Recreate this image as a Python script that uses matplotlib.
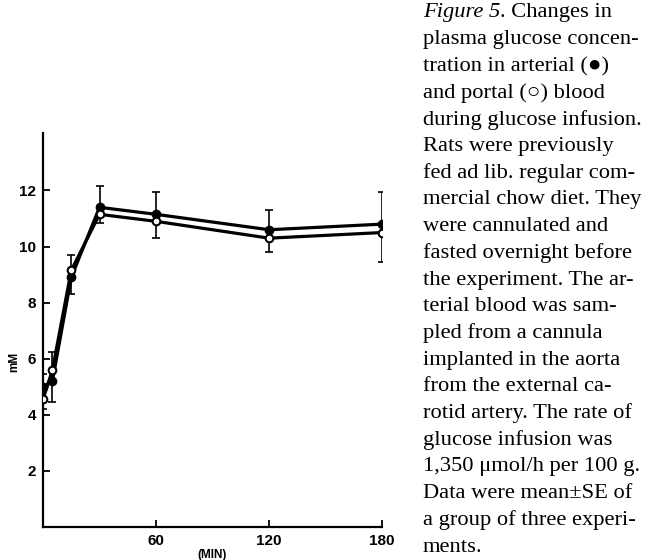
import matplotlib
matplotlib.use("Agg")
import matplotlib.pyplot as plt

# time (min) and plasma glucose (mM)
t = [0, 5, 15, 30, 60, 120, 180]
arterial = [5.0, 5.2, 8.9, 11.4, 11.15, 10.6, 10.8]
arterial_se = [0.45, 1.05, 0.8, 0.75, 0.8, 0.7, 1.15]   # drawn upward
portal = [4.55, 5.6, 9.15, 11.15, 10.9, 10.3, 10.5]
portal_se = [0.35, 1.15, 0.85, 0.3, 0.6, 0.5, 1.05]     # drawn downward

yticks = [2, 4, 6, 8, 10, 12]
xticks = [60, 120, 180]

caption = [
    "plasma glucose concen-",
    "tration in arterial (\u25cf)",
    "and portal (\u25cb) blood",
    "during glucose infusion.",
    "Rats were previously",
    "fed ad lib. regular com-",
    "mercial chow diet. They",
    "were cannulated and",
    "fasted overnight before",
    "the experiment. The ar-",
    "terial blood was sam-",
    "pled from a cannula",
    "implanted in the aorta",
    "from the external ca-",
    "rotid artery. The rate of",
    "glucose infusion was",
    "1,350 \u03bcmol/h per 100 g.",
    "Data were mean\u00b1SE of",
    "a group of three experi-",
    "ments.",
]

W, H = 646, 560
fig = plt.figure(figsize=(W / 100, H / 100), dpi=100)
ax = fig.add_axes([43 / W, 1 - 527 / H, (382 - 43) / W, (527 - 133) / H])

zero = [0] * len(t)
ax.errorbar(t, arterial, yerr=[zero, arterial_se], fmt="none", ecolor="k",
            elinewidth=1.2, capsize=3, capthick=1.2, zorder=2)
ax.errorbar(t, portal, yerr=[portal_se, zero], fmt="none", ecolor="k",
            elinewidth=1.2, capsize=3, capthick=1.2, zorder=2)
ax.plot(t, arterial, "-o", color="k", lw=2.3, ms=6, mfc="k", mec="k", zorder=3)
ax.plot(t, portal, "-o", color="k", lw=2.3, ms=5.5, mfc="white", mec="k", mew=1.5, zorder=4)

ax.set_xlim(0, 180)
ax.set_ylim(0, 14.05)
ax.set_xticks(xticks)
ax.set_yticks(yticks)
for s in ["top", "right"]:
    ax.spines[s].set_visible(False)
for s in ["left", "bottom"]:
    ax.spines[s].set_linewidth(1.6)
ax.tick_params(direction="in", length=5, width=1.3, labelsize=11, pad=5)
for lab in ax.get_xticklabels() + ax.get_yticklabels():
    lab.set_fontweight("bold")
    lab.set_family("Liberation Sans")
ax.set_xlabel("(MIN)", fontsize=8.5, fontweight="bold", family="Liberation Sans", labelpad=1)
ax.set_ylabel("mM", fontsize=8.5, fontweight="bold", family="Liberation Sans")
ax.yaxis.set_label_coords(-0.066, 0.42)

# caption, line by line
serif = ["Liberation Serif", "DejaVu Serif"]
fs = 16.2
x0, y0, dy = 423 / W, 1 - 13 / H, 26.7 / H
t1 = fig.text(x0, y0, "Figure 5", fontsize=fs, family=serif, style="italic", va="center")
fig.canvas.draw()
ax.annotate(". Changes in", xy=(1, 0), xycoords=t1, va="bottom", ha="left",
            fontsize=fs, family=serif, annotation_clip=False)
for i, line in enumerate(caption, start=1):
    fig.text(x0, y0 - i * dy, line, fontsize=fs, family=serif, va="center")

fig.savefig("out.png", dpi=100)
